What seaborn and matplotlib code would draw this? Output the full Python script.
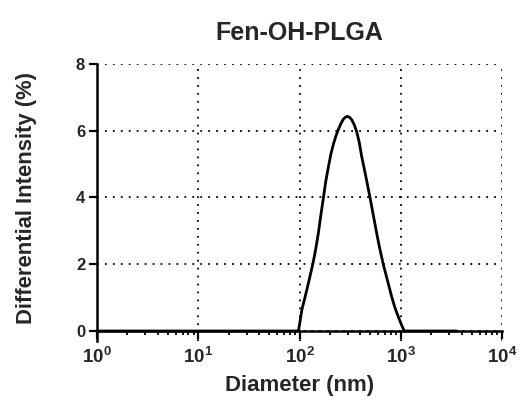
import matplotlib
matplotlib.use("Agg")
import matplotlib.pyplot as plt
import matplotlib.ticker as mticker
import seaborn as sns
import pandas as pd

# Data (diameter in nm, differential intensity in %)
diameter_nm = [1.0, 97.7, 105.4, 112.0, 118.0, 126.0, 135.2, 144.5, 153.8, 162.0,
               172.2, 182.0, 193.2, 204.0, 216.3, 229.0, 242.7, 257.0, 271.6, 285.0,
               297.8, 312.6, 328.1, 346.7, 367.3, 389.0, 411.1, 447.0, 496.6, 537.0,
               578.1, 617.0, 671.4, 741.0, 812.8, 871.0, 944.1, 1012.0, 1081.0, 3600.0]
intensity_pct = [0.0, 0.0, 0.63, 0.95, 1.23, 1.6, 2.0, 2.45, 2.95, 3.45,
                 4.0, 4.5, 4.93, 5.3, 5.6, 5.85, 6.05, 6.22, 6.35, 6.41,
                 6.43, 6.4, 6.33, 6.18, 5.97, 5.65, 5.23, 4.7, 4.0, 3.45,
                 2.93, 2.5, 2.0, 1.5, 1.03, 0.72, 0.43, 0.2, 0.0, 0.0]

title_text = "Fen-OH-PLGA"
x_label = "Diameter (nm)"
y_label = "Differential Intensity (%)"
x_tick_vals = [1, 10, 100, 1000, 10000]
x_tick_exps = [0, 1, 2, 3, 4]
y_tick_vals = [0, 2, 4, 6, 8]

sns.set_style("white")
plt.rcParams["font.family"] = ["Liberation Sans", "DejaVu Sans"]
plt.rcParams["font.weight"] = "bold"
plt.rcParams["mathtext.fontset"] = "custom"
plt.rcParams["mathtext.rm"] = "Liberation Sans:bold"
plt.rcParams["mathtext.bf"] = "Liberation Sans:bold"
plt.rcParams["mathtext.it"] = "Liberation Sans:bold"
plt.rcParams["mathtext.default"] = "bf"

df = pd.DataFrame({"Diameter": diameter_nm, "Intensity": intensity_pct})

fig = plt.figure(figsize=(5.23, 4.01), dpi=100)
ax = fig.add_axes([0.1855, 0.1496, 0.7744, 0.6908])

sns.lineplot(data=df, x="Diameter", y="Intensity", ax=ax, color="black",
             linewidth=2.0, zorder=5)

ax.set_xscale("log")
ax.set_xlim(1, 10000)
ax.set_ylim(-0.3, 8)

ax.xaxis.set_major_locator(mticker.FixedLocator(x_tick_vals))
ax.xaxis.set_major_formatter(mticker.FixedFormatter([r"$\mathbf{10^{%d}}$" % e for e in x_tick_exps]))
ax.xaxis.set_minor_locator(mticker.LogLocator(base=10, subs=range(2, 10), numticks=20))
ax.xaxis.set_minor_formatter(mticker.NullFormatter())
ax.yaxis.set_major_locator(mticker.FixedLocator(y_tick_vals))
ax.yaxis.set_major_formatter(mticker.FixedFormatter([str(v) for v in y_tick_vals]))

ax.spines["top"].set_visible(False)
ax.spines["right"].set_visible(False)
ax.spines["bottom"].set_position(("data", 0))
for s in ("left", "bottom"):
    ax.spines[s].set_linewidth(1.8)
    ax.spines[s].set_color("black")

ax.grid(True, which="major", color="black", linestyle=(0, (1, 3.4)), linewidth=1.3)
ax.set_axisbelow(True)

ax.tick_params(axis="both", which="major", direction="out", length=5.5, width=1.6,
               color="black", bottom=True, left=True)
ax.tick_params(axis="x", which="major", labelsize=13.5, pad=6)
ax.tick_params(axis="y", which="major", labelsize=12, pad=3)
ax.tick_params(axis="x", which="minor", direction="out", length=3.2, width=1.3,
               color="black", bottom=True)
for lab in ax.get_yticklabels() + ax.get_xticklabels():
    lab.set_fontweight("bold")

ax.set_title(title_text, fontsize=18, fontweight="bold", pad=17)
ax.set_xlabel(x_label, fontsize=16, fontweight="bold", labelpad=6)
ax.set_ylabel(y_label, fontsize=15.8, fontweight="bold")
ax.yaxis.set_label_coords(-0.148, 0.518)

fig.savefig("out.png", dpi=100)
